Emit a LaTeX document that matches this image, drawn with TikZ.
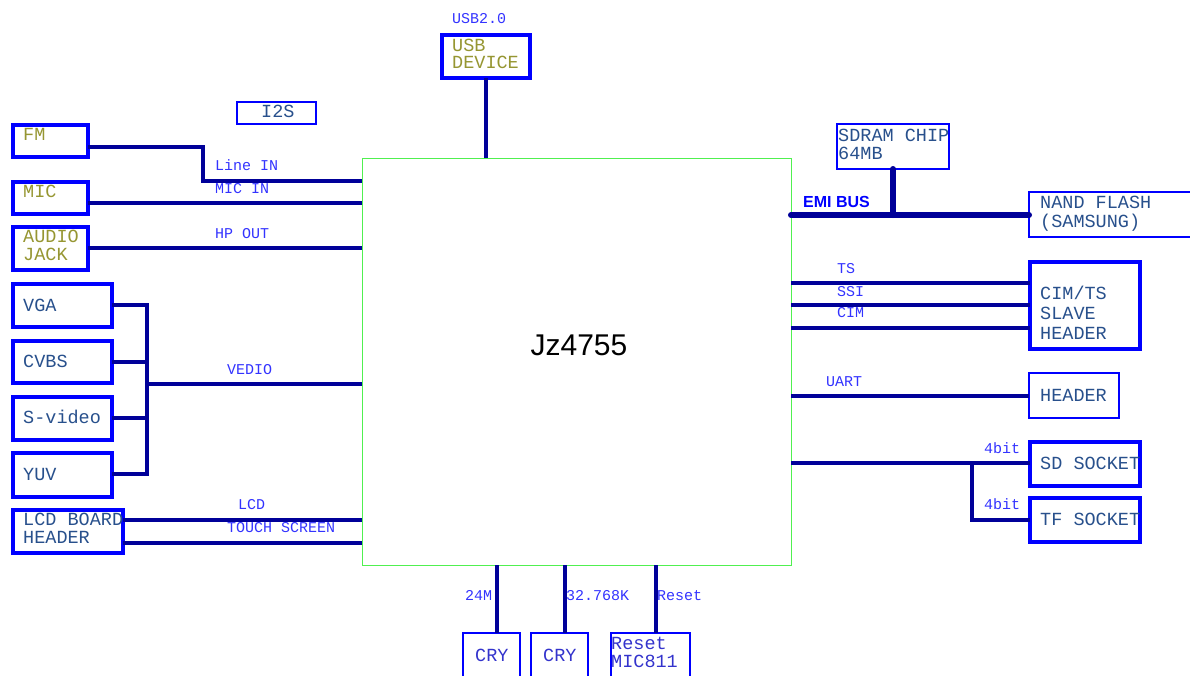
\documentclass[tikz,border=0pt]{standalone}
\usepackage{fontspec}
\setmainfont{Liberation Sans}
\newfontfamily\monof{Liberation Mono}
\definecolor{wirec}{RGB}{0,0,153}
\definecolor{boxb}{RGB}{0,0,255}
\definecolor{lblc}{RGB}{51,51,255}
\definecolor{olivec}{RGB}{150,150,50}
\definecolor{btxtc}{RGB}{40,80,140}
\definecolor{crytc}{RGB}{51,51,204}
\definecolor{chipg}{RGB}{80,240,80}
\newcommand\mkbox[6]{\node[#1,minimum width={(#5)-(#3)},minimum height={(#6)-(#4)}] (#2) at (#3,#4) {};}
\tikzset{
  tbox/.style={draw=boxb, line width=4pt, inner sep=0pt, outer sep=0pt, anchor=north west},
  nbox/.style={draw=boxb, line width=1.5pt, inner sep=0pt, outer sep=0pt, anchor=north west},
  chipbox/.style={draw=chipg, line width=1pt, inner sep=0pt, outer sep=0pt, anchor=north west},
  wire/.style={draw=wirec, line width=3.5pt},
  fatwire/.style={draw=wirec, line width=6pt, line cap=round},
  lab/.style={text=lblc, font=\fontsize{15}{15}\selectfont\monof, anchor=base west, inner sep=0pt},
  btext/.style={text=btxtc, font=\fontsize{18.5}{18}\selectfont\monof, anchor=base west, inner sep=0pt},
  otext/.style={btext, text=olivec},
  ctext/.style={btext, text=crytc},
}
\begin{document}
\begin{tikzpicture}[x=1pt,y=-1pt]
\useasboundingbox (0,0) rectangle (1190,675);
\clip (0,0) rectangle (1190,675);
% boxes
\mkbox{chipbox}{chip}{362}{158}{791}{565}
\mkbox{tbox}{usb}{442}{35}{530}{78}
\mkbox{nbox}{i2s}{237}{102}{316}{124}
\mkbox{tbox}{fm}{13}{125}{88}{157}
\mkbox{tbox}{mic}{13}{182}{88}{214}
\mkbox{tbox}{aud}{13}{227}{88}{270}
\mkbox{tbox}{vga}{13}{284}{112}{327}
\mkbox{tbox}{cvbs}{13}{341}{112}{383}
\mkbox{tbox}{svid}{13}{397}{112}{440}
\mkbox{tbox}{yuv}{13}{453}{112}{497}
\mkbox{tbox}{lcd}{13}{510}{123}{553}
\mkbox{nbox}{sdram}{837}{124}{949}{169}
\mkbox{nbox}{nand}{1029}{192}{1196}{237}
\mkbox{tbox}{cim}{1030}{262}{1140}{349}
\mkbox{nbox}{hdr}{1029}{373}{1119}{418}
\mkbox{tbox}{sd}{1030}{442}{1140}{486}
\mkbox{tbox}{tf}{1030}{498}{1140}{542}
\mkbox{nbox}{cry1}{463}{633}{520}{685}
\mkbox{nbox}{cry2}{531}{633}{588}{685}
\mkbox{nbox}{rst}{611}{633}{690}{685}
% connection points
\coordinate (usbA) at (486,78);   \coordinate (usbB) at (486,158);
\coordinate (fmA) at (88,147);    \coordinate (fmJ) at (203,181); \coordinate (fmB) at (362,181);
\coordinate (micA) at (88,203);   \coordinate (micB) at (362,203);
\coordinate (hpA) at (88,248);    \coordinate (hpB) at (362,248);
\coordinate (vgaA) at (112,305);  \coordinate (cvbsA) at (112,362);
\coordinate (svidA) at (112,418); \coordinate (yuvA) at (112,474);
\coordinate (busT) at (147,305);  \coordinate (busB) at (147,474);
\coordinate (busM) at (147,384);  \coordinate (vedB) at (362,384);
\coordinate (lcdA) at (123,520);  \coordinate (lcdB) at (362,520);
\coordinate (tchA) at (123,543);  \coordinate (tchB) at (362,543);
\coordinate (emiA) at (791,215);  \coordinate (emiB) at (1029,215);
\coordinate (sdrA) at (893,169);  \coordinate (sdrB) at (893,215);
\coordinate (tsA) at (791,283);   \coordinate (tsB) at (1030,283);
\coordinate (ssiA) at (791,305);  \coordinate (ssiB) at (1030,305);
\coordinate (cimA) at (791,328);  \coordinate (cimB) at (1030,328);
\coordinate (uaA) at (791,396);   \coordinate (uaB) at (1029,396);
\coordinate (sdA) at (791,463);   \coordinate (sdB) at (1030,463);
\coordinate (tfJ) at (972,463);   \coordinate (tfB) at (1030,520);
\coordinate (c1A) at (497,565);   \coordinate (c1B) at (497,633);
\coordinate (c2A) at (565,565);   \coordinate (c2B) at (565,633);
\coordinate (c3A) at (656,565);   \coordinate (c3B) at (656,633);
% wires
\draw[wire] (usbA) -- (usbB);
\draw[wire] (fmA) -| (fmJ) -- (fmB);
\draw[wire] (micA) -- (micB);
\draw[wire] (hpA) -- (hpB);
\draw[wire] (vgaA) -- (busT) -- (busB) -- (yuvA);
\draw[wire] (cvbsA) -- (cvbsA -| busT);
\draw[wire] (svidA) -- (svidA -| busT);
\draw[wire] (busM) -- (vedB);
\draw[wire] (lcdA) -- (lcdB);
\draw[wire] (tchA) -- (tchB);
\draw[fatwire] (emiA) -- (emiB);
\draw[fatwire] (sdrA) -- (sdrB);
\draw[wire] (tsA) -- (tsB);
\draw[wire] (ssiA) -- (ssiB);
\draw[wire] (cimA) -- (cimB);
\draw[wire] (uaA) -- (uaB);
\draw[wire] (sdA) -- (sdB);
\draw[wire] (tfJ) |- (tfB);
\draw[wire] (c1A) -- (c1B);
\draw[wire] (c2A) -- (c2B);
\draw[wire] (c3A) -- (c3B);
% texts
\node[font=\fontsize{30}{30}\selectfont] (chipT) at (579,345) {Jz4755};
\node[lab] (usbL) at (452,23) {USB2.0};
\node[otext] (usbT1) at (452,51) {USB};
\node[otext] (usbT2) at (452,68) {DEVICE};
\node[btext] (i2sT) at (261,117) {I2S};
\node[otext] (fmT) at (23,140) {FM};
\node[otext] (micT) at (23,197) {MIC};
\node[otext] (audT1) at (23,242) {AUDIO};
\node[otext] (audT2) at (23,260) {JACK};
\node[lab] (lineL) at (215,170) {Line IN};
\node[lab] (micL) at (215,193) {MIC IN};
\node[lab] (hpL) at (215,238) {HP OUT};
\node[btext] (vgaT) at (23,311) {VGA};
\node[btext] (cvbsT) at (23,367) {CVBS};
\node[btext] (svidT) at (23,423) {S-video};
\node[btext] (yuvT) at (23,480) {YUV};
\node[lab] (vedL) at (227,374) {VEDIO};
\node[btext] (lcdT1) at (23,525) {LCD BOARD};
\node[btext] (lcdT2) at (23,543) {HEADER};
\node[lab] (lcdL) at (238,509) {LCD};
\node[lab] (tchL) at (227,532) {TOUCH SCREEN};
\node[text=boxb, font=\fontsize{16}{16}\selectfont\bfseries, anchor=base west, inner sep=0pt] (emiL) at (803,207) {EMI BUS};
\node[btext] (sdrT1) at (838,141) {SDRAM CHIP};
\node[btext] (sdrT2) at (838,159) {64MB};
\node[btext] (nandT1) at (1040,208) {NAND FLASH};
\node[btext] (nandT2) at (1040,227) {(SAMSUNG)};
\node[lab] (tsL) at (837,273) {TS};
\node[lab] (ssiL) at (837,296) {SSI};
\node[lab] (cimL) at (837,317) {CIM};
\node[btext] (cimT1) at (1040,299) {CIM/TS};
\node[btext] (cimT2) at (1040,319) {SLAVE};
\node[btext] (cimT3) at (1040,339) {HEADER};
\node[lab] (uaL) at (826,386) {UART};
\node[btext] (hdrT) at (1040,401) {HEADER};
\node[lab] (sdL) at (984,453) {4bit};
\node[btext] (sdT) at (1040,469) {SD SOCKET};
\node[lab] (tfL) at (984,509) {4bit};
\node[btext] (tfT) at (1040,525) {TF SOCKET};
\node[lab] (c1L) at (465,600) {24M};
\node[lab] (c2L) at (566,600) {32.768K};
\node[lab] (c3L) at (657,600) {Reset};
\node[ctext] (cry1T) at (475,661) {CRY};
\node[ctext] (cry2T) at (543,661) {CRY};
\node[ctext] (rstT1) at (611,649) {Reset};
\node[ctext] (rstT2) at (611,667) {MIC811};
\end{tikzpicture}
\end{document}
